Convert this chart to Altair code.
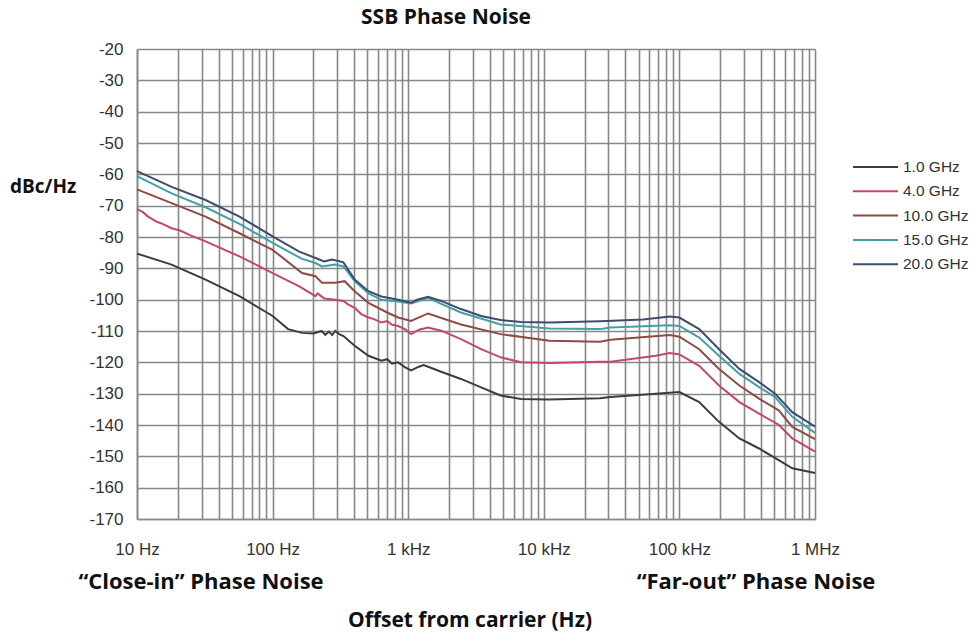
import altair as alt
import pandas as pd

# ---------------- data ----------------
series = ["1.0 GHz", "4.0 GHz", "10.0 GHz", "15.0 GHz", "20.0 GHz"]
colors = ["#3b3b42", "#c4466f", "#8c4c45", "#45a0a2", "#3e4d6e"]

f_1g = [10, 18, 32, 57, 100, 130, 165, 200, 230, 245, 260, 275, 290, 310, 333, 403, 509, 635, 700, 760, 843, 950,
        1050, 1200, 1300, 1500, 1750, 2450, 3450, 4800, 6800, 11000, 26000, 31000, 67000, 100000, 140000, 196000,
        277000, 387000, 540000, 680000, 1000000]
db_1g = [-85.3, -88.8, -93.6, -98.9, -105.2, -109.4, -110.6, -110.8, -110.0, -111.2, -110.2, -111.3, -110.0, -111.0,
         -111.6, -114.7, -117.9, -119.5, -119.0, -120.4, -120.0, -121.6, -122.6, -121.4, -120.9, -121.9, -123.0, -125.3,
         -128.0, -130.6, -131.7, -131.9, -131.5, -131.1, -130.0, -129.5, -132.7, -139.0, -144.3, -147.5, -151.2, -153.8,
         -155.3]

f_4g = [10, 11, 12, 13.9, 15, 18, 21, 24.3, 32, 57, 100, 156, 207, 215, 240, 290, 333, 360, 403, 450, 509, 560, 635,
        700, 760, 843, 950, 1050, 1200, 1400, 1750, 2450, 3450, 4800, 6800, 11000, 26000, 31000, 67000, 85000, 100000,
        140000, 196000, 277000, 387000, 540000, 680000, 1000000]
db_4g = [-71.1, -72.0, -73.4, -75.1, -75.6, -77.2, -78.0, -79.3, -81.4, -86.2, -91.5, -95.7, -98.9, -98.0, -99.6,
         -100.0, -100.4, -101.5, -102.6, -104.6, -105.7, -106.2, -107.3, -106.8, -108.0, -108.4, -109.5, -111.0, -109.6,
         -108.9, -109.9, -112.6, -115.8, -118.4, -120.0, -120.2, -119.8, -119.8, -117.9, -117.0, -117.5, -121.1, -127.4,
         -132.7, -136.4, -139.9, -144.3, -148.5]

f_10g = [10, 18, 32, 57, 100, 165, 207, 231, 290, 340, 403, 509, 700, 843, 1050, 1400, 2450, 4800, 11000, 26000, 31000,
         85000, 100000, 140000, 196000, 277000, 387000, 540000, 680000, 1000000]
db_10g = [-64.8, -69.2, -73.5, -78.8, -84.1, -91.5, -92.5, -94.6, -94.6, -94.1, -97.3, -101.0, -104.1, -105.7, -106.8,
          -104.4, -107.9, -111.0, -113.1, -113.4, -112.8, -111.3, -111.8, -115.8, -122.1, -127.4, -131.6, -135.3,
          -140.6, -144.5]

f_15g = [10, 18, 32, 57, 100, 165, 207, 231, 290, 333, 403, 509, 635, 843, 1050, 1400, 2450, 4800, 11000, 26000, 31000,
         85000, 100000, 140000, 196000, 277000, 387000, 508000, 680000, 1000000]
db_15g = [-60.6, -66.1, -70.5, -75.8, -81.9, -87.0, -88.3, -89.4, -88.8, -89.4, -94.1, -98.0, -100.0, -100.6, -101.2,
          -99.5, -104.1, -107.9, -109.2, -109.4, -108.9, -108.2, -108.4, -112.1, -117.9, -123.7, -127.9, -131.1,
          -137.4, -142.5]

f_20g = [10, 18, 32, 57, 100, 156, 207, 240, 273, 300, 333, 403, 509, 635, 843, 1050, 1150, 1400, 1750, 2450, 3450,
         4800, 6800, 11000, 26000, 54000, 85000, 100000, 140000, 196000, 277000, 387000, 508000, 680000, 1000000]
db_20g = [-59.0, -64.0, -68.2, -73.5, -79.8, -84.6, -86.7, -87.8, -87.2, -87.6, -88.1, -93.6, -97.3, -99.0, -100.0,
          -101.0, -100.1, -99.1, -100.4, -103.0, -105.2, -106.5, -107.1, -107.3, -106.9, -106.3, -105.4, -105.7, -109.4,
          -115.8, -122.1, -126.3, -130.0, -135.9, -140.5]

series_f = [f_1g, f_4g, f_10g, f_15g, f_20g]
series_db = [db_1g, db_4g, db_10g, db_15g, db_20g]

y_ticks = list(range(-170, -19, 10))
x_major = [10, 100, 1000, 10000, 100000, 1000000]
x_major_labels = ["10 Hz", "100 Hz", "1 kHz", "10 kHz", "100 kHz", "1 MHz"]
x_grid = [d * k for d in x_major[:-1] for k in range(1, 10)] + [x_major[-1]]

title_text = "SSB Phase Noise"
y_title_text = "dBc/Hz"
x_title_text = "Offset from carrier (Hz)"
left_note = "\u201cClose-in\u201d Phase Noise"
right_note = "\u201cFar-out\u201d Phase Noise"

# ---------------- build ----------------
rows = []
for name, fs, dbs in zip(series, series_f, series_db):
    for i, (f, v) in enumerate(zip(fs, dbs)):
        rows.append({"series": name, "freq": f, "dB": v, "order": i})
df = pd.DataFrame(rows)

label_expr = " : ".join(
    f"datum.value == {v} ? '{t}'" for v, t in zip(x_major, x_major_labels)
) + " : ''"

GRID = "#888888"
FONT = "Liberation Sans"
BOLD = "Open Sans"

color_scale = alt.Scale(domain=series, range=colors)

lines = alt.Chart(df).mark_line(strokeWidth=2, interpolate="linear").encode(
    x=alt.X("freq:Q",
            scale=alt.Scale(type="log", domain=[10, 1000000], nice=False),
            axis=alt.Axis(values=x_grid, labelExpr=label_expr, title=None, grid=True,
                          gridColor=GRID, gridWidth=1.6, ticks=False, labelPadding=22,
                          labelFont=FONT, labelFontSize=17, labelColor="#333333",
                          labelOverlap=False, labelFlush=False, domainColor=GRID,
                          domainWidth=1.6)),
    y=alt.Y("dB:Q",
            scale=alt.Scale(domain=[-170, -20], nice=False, zero=False),
            axis=alt.Axis(values=y_ticks, title=None, grid=True, gridColor=GRID, gridWidth=1.6,
                          labelExpr="'' + datum.value",
                          ticks=False, labelPadding=14, labelFont=FONT, labelFontSize=17,
                          labelColor="#333333", labelFlush=False, domainColor=GRID,
                          domainWidth=1.6)),
    color=alt.Color("series:N", scale=color_scale, legend=None),
    order="order:Q",
    detail="series:N",
)


def note(text, x, y, size, align="center"):
    return alt.Chart(pd.DataFrame({"t": [text]})).mark_text(
        font=BOLD, fontWeight="bold", fontSize=size, align=align, baseline="middle", color="#111111"
    ).encode(x=alt.value(x), y=alt.value(y), text="t:N")


layers = [lines,
          note(title_text, 309, -31, 21),
          note(y_title_text, -127, 138, 19, align="left"),
          note(left_note, 64, 533, 22),
          note(right_note, 619, 533, 22),
          note(x_title_text, 333, 572, 21)]

# manual legend
leg_y0 = 118
leg_step = 24.3
for i, (name, col) in enumerate(zip(series, colors)):
    ly = leg_y0 + i * leg_step
    d = pd.DataFrame({"t": [name]})
    layers.append(alt.Chart(d).mark_rule(color=col, strokeWidth=2).encode(
        x=alt.value(716), x2=alt.value(761), y=alt.value(ly)))
    layers.append(alt.Chart(d).mark_text(font=FONT, fontSize=15.5, align="left", baseline="middle",
                                         color="#333333").encode(
        x=alt.value(766), y=alt.value(ly), text="t:N"))

chart = alt.layer(*layers).properties(
    width=678, height=470,
    padding={"left": 137, "top": 49, "right": 161, "bottom": 114},
    autosize=alt.AutoSizeParams(type="none"),
    background="white",
).configure_view(stroke=None)

chart.save("out.html", embed_options={"renderer": "svg", "actions": False})
